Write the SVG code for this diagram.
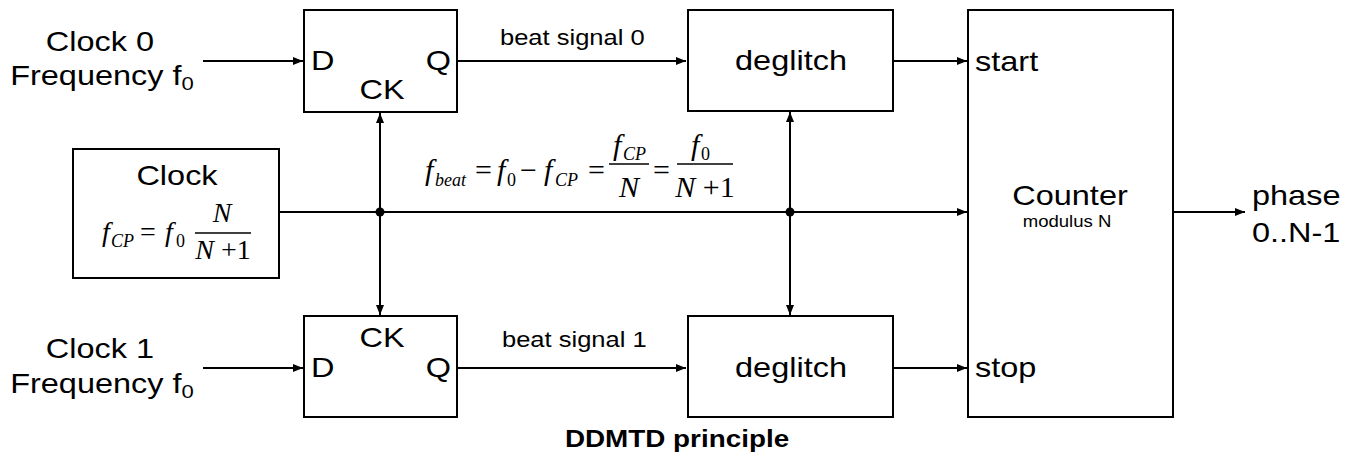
<svg xmlns="http://www.w3.org/2000/svg" width="1362" height="457" viewBox="0 0 1362 457">
  <style>
    .box { fill: #fff; stroke: #000; stroke-width: 2; }
    .wire { fill: none; stroke: #000; stroke-width: 2; }
    .bar { stroke: #000; stroke-width: 1.4; }
    .t { font-family: "Liberation Sans", Arial, sans-serif; fill: #000; }
    .big { font-size: 28px; }
    .small { font-size: 22px; }
    .tiny { font-size: 16px; }
    .sub { font-size: 19px; }
    .m { font-family: "Liberation Serif", "Times New Roman", serif; fill: #000; font-size: 30px; }
    .m2 { font-family: "Liberation Serif", "Times New Roman", serif; fill: #000; font-size: 28px; }
    .mi { font-style: italic; }
    .ms { font-size: 18px; }
    .ms2 { font-size: 18px; }
    .title { font-family: "Liberation Sans", Arial, sans-serif; font-weight: bold; font-size: 24px; fill: #000; }
  </style>
  <defs>
    <marker id="arr" markerUnits="userSpaceOnUse" markerWidth="11" markerHeight="9" refX="10" refY="4" orient="auto">
      <path d="M0,0 L10,4 L0,8 z" fill="#000"/>
    </marker>
  </defs>

  <!-- signal wiring -->
  <g id="connectors">
    <line class="wire" x1="203" y1="61" x2="303" y2="61" marker-end="url(#arr)"/>
    <line class="wire" x1="203" y1="368" x2="303" y2="368" marker-end="url(#arr)"/>
    <line class="wire" x1="457" y1="61" x2="686" y2="61" marker-end="url(#arr)"/>
    <line class="wire" x1="457" y1="368" x2="686" y2="368" marker-end="url(#arr)"/>
    <line class="wire" x1="893" y1="61" x2="967" y2="61" marker-end="url(#arr)"/>
    <line class="wire" x1="893" y1="368" x2="967" y2="368" marker-end="url(#arr)"/>
    <line class="wire" x1="279" y1="212" x2="967" y2="212" marker-end="url(#arr)"/>
    <line class="wire" x1="1173" y1="212" x2="1245" y2="212" marker-end="url(#arr)"/>
    <line class="wire" x1="380" y1="212" x2="380" y2="113" marker-end="url(#arr)"/>
    <line class="wire" x1="380" y1="212" x2="380" y2="315" marker-end="url(#arr)"/>
    <line class="wire" x1="790" y1="212" x2="790" y2="112" marker-end="url(#arr)"/>
    <line class="wire" x1="790" y1="212" x2="790" y2="315" marker-end="url(#arr)"/>
    <circle cx="380" cy="212" r="4.5" fill="#000"/>
    <circle cx="790" cy="212" r="4.5" fill="#000"/>
    <text class="t small" transform="translate(500,45) scale(1.16,1)">beat signal  0</text>
    <text class="t small" transform="translate(502,347) scale(1.16,1)">beat signal 1</text>
  </g>

  <!-- clock inputs -->
  <g id="clock0">
    <text class="t big" transform="translate(100,51) scale(1.16,1)" text-anchor="middle">Clock 0</text>
    <text class="t big" transform="translate(102,85) scale(1.16,1)" text-anchor="middle">Frequency f<tspan class="sub" dy="5">0</tspan></text>
  </g>
  <g id="clock1">
    <text class="t big" transform="translate(100,358) scale(1.16,1)" text-anchor="middle">Clock 1</text>
    <text class="t big" transform="translate(102,393) scale(1.16,1)" text-anchor="middle">Frequency f<tspan class="sub" dy="5">0</tspan></text>
  </g>

  <!-- D flip-flops -->
  <g id="ff0">
    <rect class="box" x="304" y="10" width="153" height="102"/>
    <text class="t big" transform="translate(311,70) scale(1.16,1)">D</text>
    <text class="t big" transform="translate(451,70) scale(1.16,1)" text-anchor="end">Q</text>
    <text class="t big" transform="translate(382,99) scale(1.16,1)" text-anchor="middle">CK</text>
  </g>
  <g id="ff1">
    <rect class="box" x="304" y="316" width="153" height="101"/>
    <text class="t big" transform="translate(311,377) scale(1.16,1)">D</text>
    <text class="t big" transform="translate(451,377) scale(1.16,1)" text-anchor="end">Q</text>
    <text class="t big" transform="translate(382,347) scale(1.16,1)" text-anchor="middle">CK</text>
  </g>

  <!-- common clock -->
  <g id="clock">
    <rect class="box" x="73" y="149" width="206" height="129"/>
    <text class="t big" transform="translate(177,185) scale(1.16,1)" text-anchor="middle">Clock</text>
    <text class="m2 mi" x="102" y="241">f</text>
    <text class="m2 mi ms2" x="111" y="247">CP</text>
    <text class="m2" x="140" y="241">=</text>
    <text class="m2 mi" x="165" y="241">f</text>
    <text class="m2 ms2" x="176" y="247">0</text>
    <line class="bar" x1="195" y1="233" x2="251" y2="233"/>
    <text class="m2 mi" x="222" y="222" text-anchor="middle">N</text>
    <text class="m2" x="223" y="259" text-anchor="middle"><tspan class="mi">N</tspan> +1</text>
  </g>

  <!-- beat frequency relation -->
  <g id="formula">
    <text class="m mi" x="425" y="180">f</text>
    <text class="m mi ms" x="435" y="186">beat</text>
    <text class="m" x="475" y="180">=</text>
    <text class="m mi" x="497" y="180">f</text>
    <text class="m ms" x="507" y="186">0</text>
    <text class="m" x="520" y="180">−</text>
    <text class="m mi" x="544" y="180">f</text>
    <text class="m mi ms" x="555" y="186">CP</text>
    <text class="m" x="588" y="180">=</text>
    <line class="bar" x1="609" y1="164" x2="649" y2="164"/>
    <text class="m mi" x="613" y="155">f</text>
    <text class="m mi ms" x="623" y="160">CP</text>
    <text class="m mi" x="629" y="197" text-anchor="middle">N</text>
    <text class="m" x="653" y="180">=</text>
    <line class="bar" x1="677" y1="164" x2="733" y2="164"/>
    <text class="m mi" x="691" y="155">f</text>
    <text class="m ms" x="701" y="160">0</text>
    <text class="m" x="705" y="197" text-anchor="middle"><tspan class="mi">N</tspan> +1</text>
  </g>

  <!-- deglitch filters -->
  <g id="deglitch0">
    <rect class="box" x="688" y="10" width="205" height="101"/>
    <text class="t big" transform="translate(791,70) scale(1.16,1)" text-anchor="middle">deglitch</text>
  </g>
  <g id="deglitch1">
    <rect class="box" x="688" y="316" width="205" height="101"/>
    <text class="t big" transform="translate(791,377) scale(1.16,1)" text-anchor="middle">deglitch</text>
  </g>

  <!-- phase counter -->
  <g id="counter">
    <rect class="box" x="968" y="10" width="205" height="407"/>
    <text class="t big" transform="translate(975,71) scale(1.16,1)">start</text>
    <text class="t big" transform="translate(975,377) scale(1.16,1)">stop</text>
    <text class="t big" transform="translate(1070,205) scale(1.16,1)" text-anchor="middle">Counter</text>
    <text class="t tiny" transform="translate(1067,227) scale(1.16,1)" text-anchor="middle">modulus N</text>
  </g>

  <!-- counter output -->
  <g id="phase">
    <text class="t big" transform="translate(1252,205) scale(1.16,1)">phase</text>
    <text class="t big" transform="translate(1252,242) scale(1.16,1)">0..N-1</text>
  </g>

  <text class="title" transform="translate(677,447) scale(1.16,1)" text-anchor="middle">DDMTD principle</text>
</svg>
